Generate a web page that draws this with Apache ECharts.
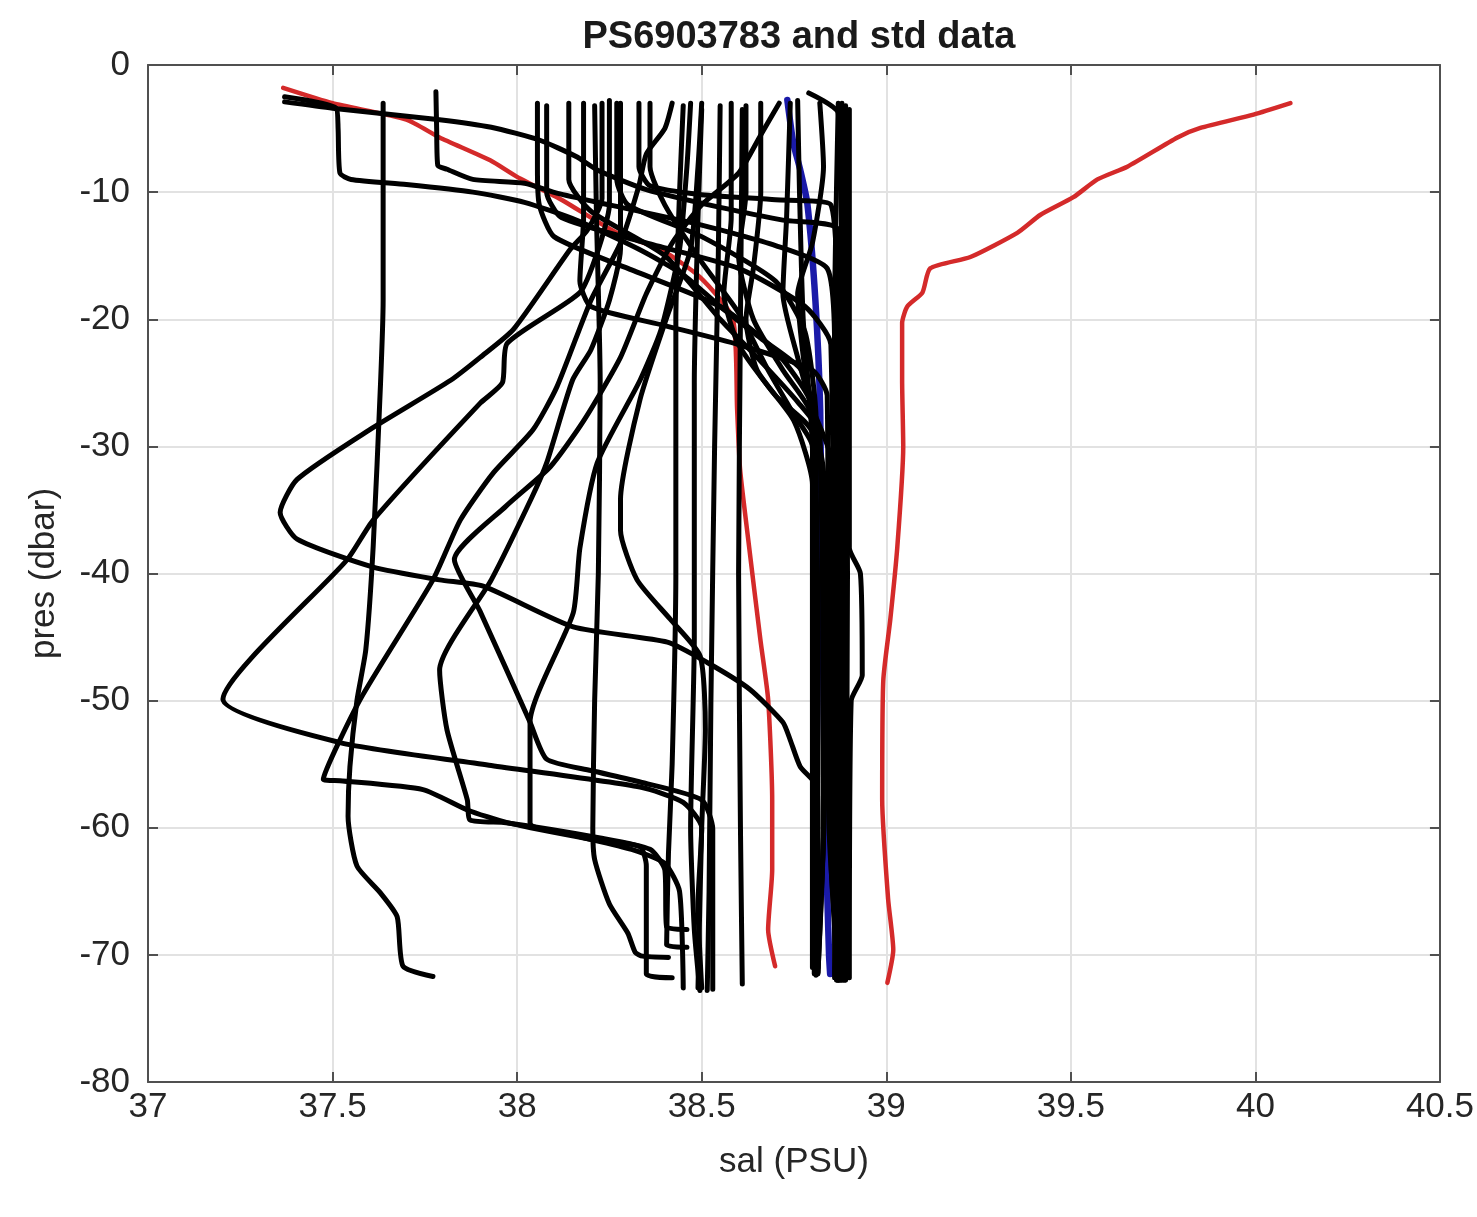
<!DOCTYPE html>
<html><head><meta charset="utf-8">
<script src="https://cdn.jsdelivr.net/npm/echarts@6/dist/echarts.min.js"></script>
<style>html,body{margin:0;padding:0;background:#fff}#c{width:1477px;height:1217px}</style>
</head><body><div id="c"></div>
<script>
const chartTitle = 'PS6903783 and std data';
const xName = 'sal (PSU)';
const yName = 'pres (dbar)';

// std envelope (red)
const stdLow = [[37.366,-1.8],[37.5,-3.0],[37.70,-4.3],[37.79,-5.7],[37.927,-7.5],[38.0,-8.8],[38.12,-10.6],[38.27,-13.2],[38.388,-14.5],[38.496,-16.7],[38.585,-20.0],[38.596,-27.1],[38.604,-31.8],[38.626,-37.3],[38.659,-45.2],[38.680,-49.9],[38.691,-57.8],[38.691,-63.3],[38.680,-68.0],[38.699,-70.9]];
const stdHigh = [[40.095,-3.0],[39.995,-3.9],[39.851,-4.95],[39.789,-5.7],[39.653,-8.0],[39.572,-9.0],[39.507,-10.4],[39.417,-11.8],[39.355,-13.2],[39.228,-15.1],[39.119,-16.0],[39.098,-17.9],[39.057,-19.0],[39.043,-20.3],[39.043,-24.8],[39.046,-30.0],[39.030,-37.9],[39.011,-43.6],[38.992,-48.4],[38.989,-57.8],[39.005,-65.6],[39.019,-69.6],[39.003,-72.2]];
// float profile (blue)
const floatProfile = [[38.732,-2.75],[38.748,-6.1],[38.767,-8.25],[38.786,-10.85],[38.808,-18.5],[38.821,-27.1],[38.827,-42.1],[38.835,-60],[38.84,-65],[38.845,-70],[38.848,-71.5]];

// reference (black) profiles
const prof01 = [[37.37,-2.5],[37.51,-3.4],[37.515,-5],[37.52,-8.5],[37.55,-9.0],[37.7,-9.4],[37.88,-10.0],[38.02,-10.8],[38.16,-12.2],[38.33,-14.5],[38.45,-16.5],[38.55,-19],[38.66,-21.5],[38.77,-24],[38.8,-28],[38.815,-45],[38.815,-60],[38.81,-71.3]];
const prof02 = [[37.37,-2.9],[37.5,-3.4],[37.79,-4.3],[37.93,-4.9],[38.06,-5.9],[38.16,-7.2],[38.22,-8.3],[38.35,-9.8],[38.55,-11.2],[38.72,-12.2],[38.87,-13],[38.875,-30],[38.88,-50],[38.88,-72]];
const prof03 = [[37.78,-2.1],[37.782,-5],[37.785,-7.9],[37.81,-8.2],[37.88,-9.0],[38.02,-9.3],[38.11,-10.1],[38.25,-11.0],[38.5,-12.6],[38.7,-14.2],[38.84,-16],[38.86,-22],[38.86,-45],[38.865,-72]];
const prof04 = [[37.637,-3.0],[37.637,-10],[37.637,-18.5],[37.63,-25],[37.61,-37.9],[37.59,-46],[37.566,-50],[37.547,-55.2],[37.542,-59.1],[37.566,-63.0],[37.629,-65.1],[37.675,-67.0],[37.691,-70.9],[37.772,-71.7]];
const prof05 = [[38.23,-3.0],[38.23,-10.5],[38.19,-13],[38.144,-14.5],[37.99,-20.8],[37.9,-23],[37.82,-24.8],[37.6,-28.7],[37.404,-32.6],[37.358,-35.2],[37.404,-37.3],[37.61,-39.5],[37.79,-40.5],[37.908,-41.0],[38.152,-44.2],[38.407,-45.4],[38.515,-47.0],[38.63,-49.1],[38.72,-51.7],[38.74,-53.1],[38.767,-55.2],[38.813,-56.8],[38.815,-62],[38.81,-71.0]];
const prof06 = [[38.25,-2.8],[38.25,-11.0],[38.22,-14.5],[38.17,-17.9],[37.973,-21.9],[37.96,-25.0],[37.9,-26.6],[37.61,-35.8],[37.54,-38.9],[37.203,-49.9],[37.52,-53.3],[37.93,-55.1],[38.333,-56.8],[38.45,-58],[38.5,-60],[38.49,-66],[38.5,-72.6]];
const prof07 = [[38.42,-3.0],[38.4,-5],[38.35,-7],[38.33,-9.5],[38.28,-14],[38.2,-18.5],[38.108,-25.3],[38.043,-28.7],[37.935,-32.1],[37.846,-35.8],[37.772,-40.5],[37.575,-49.9],[37.475,-56.2],[37.52,-56.3],[37.745,-57.0],[37.865,-58.6],[37.973,-59.6],[38.198,-60.9],[38.333,-61.5],[38.35,-63],[38.35,-71.5],[38.42,-71.8]];
const prof08 = [[38.28,-3.0],[38.28,-10],[38.28,-14.5],[38.25,-18.5],[38.2,-22.4],[38.15,-24.8],[38.08,-31.3],[38.04,-34],[37.93,-40.5],[37.79,-47.6],[37.81,-52.3],[37.865,-57.8],[37.873,-59.4],[37.97,-59.6],[38.225,-60.8],[38.36,-61.7],[38.4,-63.3],[38.405,-67.8],[38.46,-68.0]];
const prof09 = [[38.71,-3.0],[38.66,-5.5],[38.6,-8.5],[38.5,-11],[38.42,-14],[38.35,-18],[38.28,-23],[38.18,-28],[38.09,-31.6],[37.97,-34.7],[37.83,-38.9],[37.9,-43],[38.035,-51.7],[38.08,-54.6],[38.2,-55.5],[38.333,-56.4],[38.5,-57.8],[38.53,-60.1],[38.53,-72.7]];
const prof10 = [[38.47,-3.0],[38.46,-8],[38.44,-14.5],[38.39,-20.8],[38.333,-24.8],[38.217,-31.3],[38.17,-38],[38.152,-43.1],[38.035,-51.7],[38.035,-59.6],[38.14,-60.5],[38.31,-61.7],[38.4,-62.8],[38.44,-65],[38.45,-72.6]];
const prof11 = [[38.5,-3.0],[38.49,-8],[38.47,-14.5],[38.406,-19.8],[38.333,-26.3],[38.28,-34.2],[38.28,-36.6],[38.325,-40.5],[38.415,-43.6],[38.496,-46.5],[38.51,-52.3],[38.5,-60],[38.49,-72.6]];
const prof12 = [[38.21,-3.2],[38.215,-12],[38.225,-25],[38.22,-40],[38.21,-50],[38.205,-60],[38.21,-62.5],[38.25,-66],[38.3,-68.3],[38.32,-69.8],[38.34,-70.1],[38.41,-70.2]];
const prof13 = [[38.45,-3.2],[38.44,-10],[38.43,-20],[38.43,-40],[38.42,-55],[38.41,-62],[38.405,-69.2],[38.46,-69.4]];
const prof14 = [[38.5,-3.5],[38.49,-12],[38.48,-25],[38.48,-45],[38.47,-60],[38.48,-68],[38.495,-72.8]];
const prof15 = [[38.55,-3.2],[38.545,-15],[38.535,-30],[38.525,-50],[38.52,-65],[38.515,-72.8]];
const prof16 = [[38.61,-3.5],[38.605,-20],[38.6,-40],[38.605,-60],[38.61,-72.3]];
const prof17 = [[38.055,-3.0],[38.055,-8],[38.06,-11],[38.1,-13.5],[38.3,-16],[38.55,-19],[38.7,-22.5],[38.8,-27],[38.815,-50],[38.81,-71.6]];
const prof18 = [[38.08,-3.2],[38.08,-10],[38.12,-12],[38.35,-14],[38.6,-16],[38.78,-19],[38.85,-22],[38.86,-71.8]];
const prof19 = [[38.27,-3.0],[38.27,-9],[38.3,-11],[38.5,-13.5],[38.7,-17],[38.78,-21],[38.81,-28],[38.81,-71]];
const prof20 = [[38.14,-3.0],[38.14,-9],[38.2,-11.5],[38.4,-15],[38.55,-20],[38.65,-23],[38.76,-26.5],[38.82,-29],[38.83,-60],[38.815,-71.5]];
const prof21 = [[38.76,-2.8],[38.765,-10],[38.775,-20],[38.8,-30],[38.805,-71.5]];
const prof22 = [[38.79,-2.2],[38.87,-3.8],[38.88,-20],[38.885,-72]];
const prof23 = [[38.82,-3.0],[38.83,-8],[38.8,-14],[38.76,-18],[38.78,-24],[38.82,-30],[38.83,-60],[38.815,-70]];
const prof24 = [[38.89,-3.2],[38.895,-40],[38.89,-72]];
const prof25 = [[38.9,-3.5],[38.9,-38],[38.93,-40],[38.935,-48],[38.905,-50],[38.9,-71.8]];
const prof26 = [[38.87,-3.0],[38.86,-20],[38.87,-50],[38.875,-72]];
const prof27 = [[38.33,-3.0],[38.33,-8],[38.36,-9.5],[38.5,-10.2],[38.7,-10.6],[38.85,-11],[38.87,-25],[38.87,-72]];
const prof28 = [[38.36,-3.0],[38.36,-8],[38.4,-11],[38.5,-15.5],[38.6,-19.5],[38.68,-24],[38.75,-27.5],[38.8,-30],[38.81,-71]];
const prof29 = [[38.58,-3.0],[38.58,-12],[38.56,-18],[38.6,-22],[38.7,-26],[38.8,-29],[38.81,-60],[38.815,-71]];
const prof30 = [[38.66,-3.0],[38.66,-10],[38.64,-16],[38.62,-20],[38.65,-24],[38.75,-28],[38.8,-33],[38.8,-71]];
const prof31 = [[38.18,-3.0],[38.18,-12],[38.17,-17],[38.2,-19],[38.4,-20.5],[38.6,-22],[38.8,-24],[38.84,-26],[38.845,-60],[38.87,-71]];
const prof32 = [[38.62,-3.2],[38.62,-10],[38.6,-15],[38.64,-20],[38.72,-24],[38.79,-27],[38.83,-32],[38.835,-55],[38.815,-71.4]];
const prof33 = [[38.88,-3.0],[38.885,-30],[38.89,-55],[38.895,-71.8]];
const prof34 = [[38.74,-3.0],[38.73,-12],[38.72,-18],[38.76,-23],[38.8,-27],[38.85,-31],[38.85,-62],[38.87,-72]];

const blackProfiles = [prof01,prof02,prof03,prof04,prof05,prof06,prof07,prof08,prof09,prof10,prof11,prof12,prof13,prof14,prof15,prof16,prof17,prof18,prof19,prof20,prof21,prof22,prof23,prof24,prof25,prof26,prof27,prof28,prof29,prof30,prof31,prof32,prof33,prof34];

const font = '"Liberation Sans", Arial, Helvetica, sans-serif';
const axisColor = '#505050';
const gridColor = '#e2e2e2';

function lineSeries(data, color, width) {
  return {type: 'line', data: data, showSymbol: false, symbol: 'none', smooth: 0.2,
    silent: true, animation: false, clip: true,
    lineStyle: {color: color, width: width, cap: 'round', join: 'round'}};
}

const series = [];
series.push(lineSeries(stdLow, '#d42a2a', 4.5));
series.push(lineSeries(stdHigh, '#d42a2a', 4.5));
series.push(lineSeries(floatProfile, '#1a1aa8', 6.5));
blackProfiles.forEach(p => series.push(lineSeries(p, '#000000', 5)));

const chart = echarts.init(document.getElementById('c'), null, {renderer: 'canvas'});
chart.setOption({
  animation: false,
  backgroundColor: '#ffffff',
  title: {text: chartTitle, left: 794, top: 14, textAlign: 'center',
    textStyle: {fontFamily: font, fontWeight: 'bold', fontSize: 38, color: '#1a1a1a'}},
  grid: {left: 148, right: 37, top: 65, bottom: 135},
  xAxis: [
    {type: 'value', min: 37, max: 40.5, interval: 0.5, position: 'bottom',
      name: xName, nameLocation: 'middle', nameGap: 63,
      nameTextStyle: {fontFamily: font, fontSize: 35, color: '#262626'},
      axisLine: {onZero: false, lineStyle: {color: axisColor, width: 2}},
      axisTick: {inside: true, length: 10, lineStyle: {color: axisColor, width: 2}},
      axisLabel: {margin: 8, fontFamily: font, fontSize: 35, color: '#262626'},
      splitLine: {show: true, lineStyle: {color: gridColor, width: 2}}},
    {type: 'value', min: 37, max: 40.5, interval: 0.5, position: 'top',
      axisLine: {onZero: false, lineStyle: {color: axisColor, width: 2}},
      axisTick: {inside: true, length: 10, lineStyle: {color: axisColor, width: 2}},
      axisLabel: {show: false}, splitLine: {show: false}}
  ],
  yAxis: [
    {type: 'value', min: -80, max: 0, interval: 10, position: 'left',
      name: yName, nameLocation: 'middle', nameGap: 86, nameRotate: 90,
      nameTextStyle: {fontFamily: font, fontSize: 35, color: '#262626'},
      axisLine: {onZero: false, lineStyle: {color: axisColor, width: 2}},
      axisTick: {inside: true, length: 10, lineStyle: {color: axisColor, width: 2}},
      axisLabel: {margin: 18, fontFamily: font, fontSize: 35, color: '#262626'},
      splitLine: {show: true, lineStyle: {color: gridColor, width: 2}}},
    {type: 'value', min: -80, max: 0, interval: 10, position: 'right',
      axisLine: {onZero: false, lineStyle: {color: axisColor, width: 2}},
      axisTick: {inside: true, length: 10, lineStyle: {color: axisColor, width: 2}},
      axisLabel: {show: false}, splitLine: {show: false}}
  ],
  series: series
});
</script>
</body></html>
